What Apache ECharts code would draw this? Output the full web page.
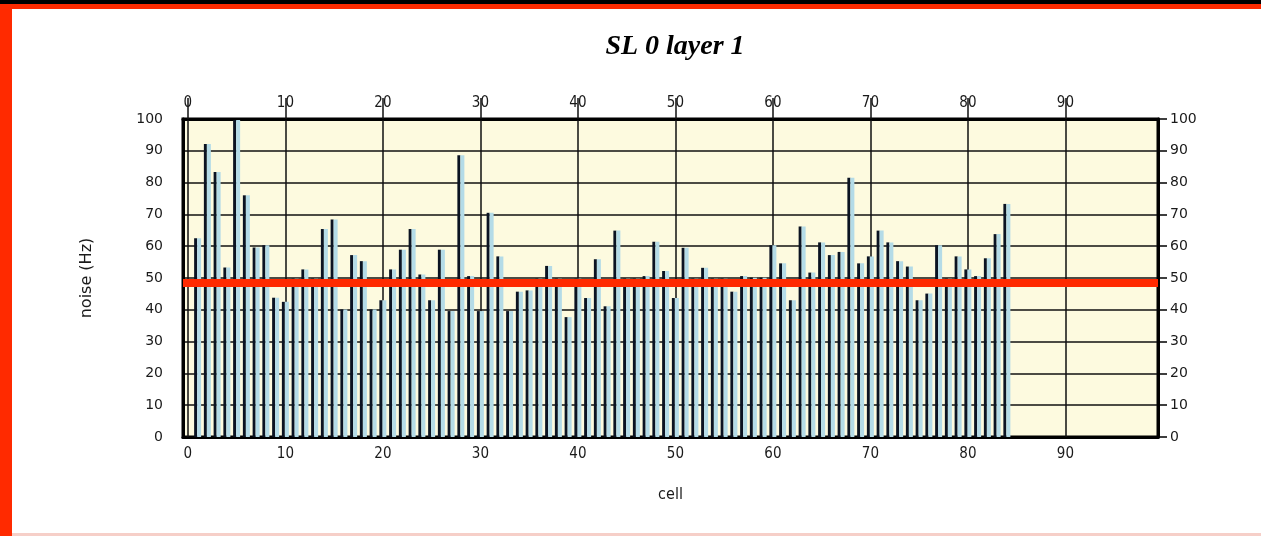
<!DOCTYPE html>
<html>
<head>
<meta charset="utf-8">
<script src="https://cdn.jsdelivr.net/npm/echarts@6/dist/echarts.min.js"></script>
<style>
  html, body { margin: 0; padding: 0; background: #ffffff; }
  #wrap { position: relative; width: 1261px; height: 536px; overflow: hidden; background: #fff; }
  #chart { position: absolute; left: 0; top: 0; width: 1261px; height: 536px; }
  .strip { position: absolute; }
</style>
</head>
<body>
<div id="wrap">
  <div id="chart"></div>
  <div class="strip" style="left:0;top:0;width:1261px;height:4px;background:#000;"></div>
  <div class="strip" style="left:0;top:4px;width:1261px;height:5px;background:#ff2a00;"></div>
  <div class="strip" style="left:0;top:4px;width:12px;height:532px;background:#ff2a00;"></div>
  <div class="strip" style="left:12px;top:533px;width:1249px;height:3px;background:#f6cfc8;"></div>
</div>
<script>
// x categories (cell index 0..99)
var cells = [];
for (var i = 0; i < 100; i++) cells.push(String(i));

// noise (Hz) for cells 1..84
var noise = [
  62.5, 92.1, 83.3, 53.3, 99.7, 76.0, 59.6, 60.3, 43.8, 42.5,
  49.8, 52.7, 49.8, 65.4, 68.4, 40.1, 57.2, 55.3, 40.1, 43.0,
  52.7, 58.9, 65.4, 51.1, 43.0, 58.9, 39.6, 88.6, 50.6, 39.6,
  70.5, 56.8, 39.6, 45.7, 46.1, 49.8, 53.8, 49.8, 37.7, 49.8,
  43.7, 55.9, 41.1, 64.9, 49.8, 49.8, 50.6, 61.4, 52.2, 43.7,
  59.5, 49.8, 53.2, 49.8, 49.8, 45.7, 50.6, 50.1, 50.1, 60.3,
  54.6, 43.0, 66.2, 51.7, 61.2, 57.2, 58.2, 81.5, 54.6, 56.8,
  64.9, 61.2, 55.3, 53.6, 43.0, 45.1, 60.3, 49.8, 56.8, 52.7,
  50.6, 56.2, 63.8, 73.3
];
var firstCell = 1;
var thresholdLine = 48.4;
var yTicks = { min: 0, max: 100, step: 10 };

var seriesData = cells.map(function (c, idx) {
  var k = idx - firstCell;
  return (k >= 0 && k < noise.length) ? noise[k] : null;
});

var labelFont = { color: '#1a1a1a', fontSize: 14, fontFamily: 'DejaVu Sans, sans-serif' };
var xLabelFont = { color: '#1a1a1a', fontSize: 15, fontFamily: 'Liberation Sans Narrow, DejaVu Sans Condensed, sans-serif' };

var chart = echarts.init(document.getElementById('chart'), null, { renderer: 'canvas' });
chart.setOption({
  animation: false,
  backgroundColor: '#ffffff',
  title: {
    text: 'SL 0 layer 1',
    left: 670,
    top: 28,
    textAlign: 'center',
    textStyle: {
      fontFamily: 'Liberation Serif, serif',
      fontStyle: 'italic',
      fontWeight: 'bold',
      fontSize: 28,
      color: '#000'
    }
  },
  grid: {
    left: 183, right: 103, top: 119, bottom: 99,
    show: true,
    backgroundColor: '#fdfadf',
    borderColor: '#000',
    borderWidth: 3
  },
  xAxis: [
    {
      type: 'category',
      data: cells,
      position: 'bottom',
      boundaryGap: true,
      axisLine: { show: true, onZero: false, lineStyle: { color: '#000', width: 3 } },
      axisTick: { show: true, interval: 9, alignWithLabel: true, inside: true, length: 317,
                  lineStyle: { color: '#111', width: 1.5 } },
      axisLabel: Object.assign({ interval: 9, margin: 10 }, xLabelFont),
      splitLine: { show: false },
      name: 'cell',
      nameLocation: 'middle',
      nameGap: 50,
      nameTextStyle: { color: '#1a1a1a', fontSize: 16, fontFamily: 'Liberation Sans Narrow, DejaVu Sans Condensed, sans-serif' }
    },
    {
      type: 'category',
      data: cells,
      position: 'top',
      boundaryGap: true,
      axisLine: { show: true, onZero: false, lineStyle: { color: '#000', width: 3 } },
      axisTick: { show: true, interval: 9, alignWithLabel: true, inside: false, length: 21,
                  lineStyle: { color: '#111', width: 1.5 } },
      axisLabel: Object.assign({ interval: 9, margin: 8 }, xLabelFont),
      splitLine: { show: false }
    }
  ],
  yAxis: [
    {
      type: 'value',
      min: yTicks.min, max: yTicks.max, interval: yTicks.step,
      position: 'left',
      axisLine: { show: true, onZero: false, lineStyle: { color: '#000', width: 3 } },
      axisTick: { show: false },
      axisLabel: Object.assign({ margin: 20 }, labelFont),
      splitLine: { show: true, lineStyle: { color: '#111', width: 1.5 } },
      name: 'noise (Hz)',
      nameLocation: 'middle',
      nameGap: 88,
      nameRotate: 90,
      nameTextStyle: { color: '#1a1a1a', fontSize: 16, fontFamily: 'DejaVu Sans, sans-serif' }
    },
    {
      type: 'value',
      min: yTicks.min, max: yTicks.max, interval: yTicks.step,
      position: 'right',
      axisLine: { show: true, onZero: false, lineStyle: { color: '#000', width: 3 } },
      axisTick: { show: true, length: 9, lineStyle: { color: '#000', width: 1.5 } },
      axisLabel: Object.assign({ margin: 12 }, labelFont),
      splitLine: { show: false }
    }
  ],
  series: [
    {
      name: 'shade',
      type: 'bar',
      xAxisIndex: 0, yAxisIndex: 0,
      data: seriesData,
      barWidth: 3,
      barGap: '0%',
      itemStyle: { color: '#0b1322' },
      silent: true
    },
    {
      name: 'noise',
      type: 'bar',
      xAxisIndex: 0, yAxisIndex: 0,
      data: seriesData,
      barWidth: 4,
      barGap: '0%',
      itemStyle: { color: '#b4dbe7' },
      silent: true,
      markLine: {
        silent: true,
        symbol: ['none', 'none'],
        label: { show: false },
        lineStyle: { color: '#ff2a00', width: 8, type: 'solid', opacity: 1 },
        data: [{ yAxis: thresholdLine }]
      }
    }
  ]
});
</script>
</body>
</html>
